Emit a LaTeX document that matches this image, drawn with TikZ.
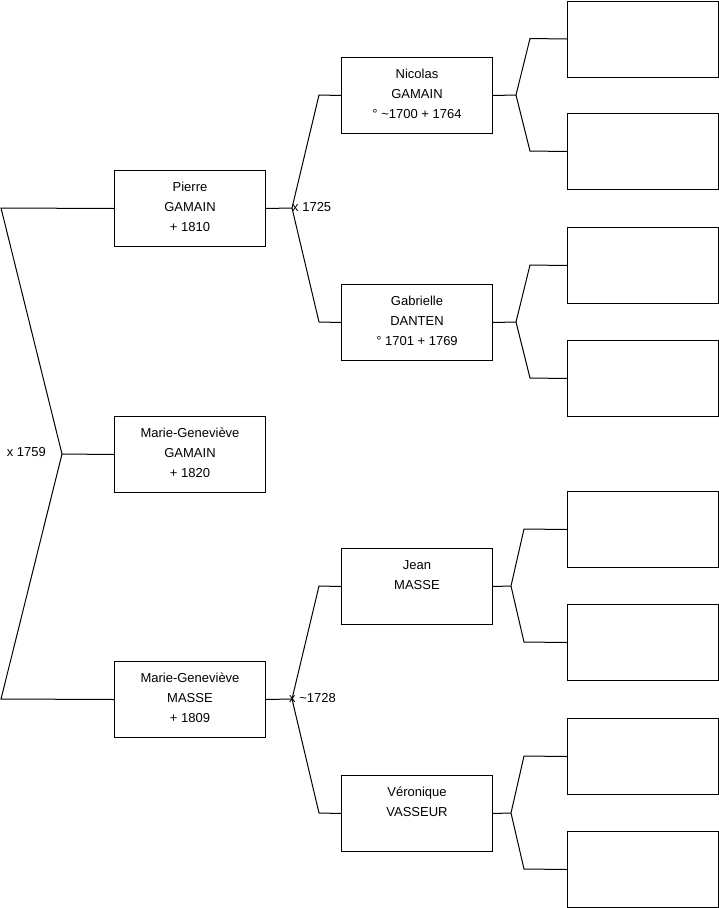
\documentclass[tikz,border=0pt]{standalone}
\usepackage{fontspec}
\setmainfont{Liberation Sans}
\newcommand{\boxlines}[1]{\vtop{\baselineskip=20pt\lineskiplimit=-20pt\halign{\hfil##\hfil\cr#1\crcr}}}
\begin{document}
\begin{tikzpicture}[x=1pt,y=-1pt,
  person/.style={draw=black,line width=1pt,rectangle,anchor=north west,minimum width=151pt,minimum height=76pt,inner sep=0pt},
  txt/.style={anchor=base,inner sep=0pt,font=\fontsize{13}{20}\selectfont},
  lbl/.style={inner sep=0pt,font=\fontsize{13}{16}\selectfont},
  conn/.style={draw=black,line width=1pt,line join=miter}]
\useasboundingbox (0,0) rectangle (719,908);
% boxes
\node[person] (p1) at (114,170) {};
\node[person] (p2) at (114,416) {};
\node[person] (p3) at (114,661) {};
\node[person] (n) at (341,57) {};
\node[person] (g) at (341,284) {};
\node[person] (j) at (341,548) {};
\node[person] (v) at (341,775) {};
\node[person] (e1) at (567,0.5) {};
\node[person] (e2) at (567,113) {};
\node[person] (e3) at (567,227) {};
\node[person] (e4) at (567,340) {};
\node[person] (e5) at (567,491) {};
\node[person] (e6) at (567,604) {};
\node[person] (e7) at (567,718) {};
\node[person] (e8) at (567,831) {};
% texts
\node[txt] (t1) at ([yshift=-21pt]p1.north) {\boxlines{Pierre\cr GAMAIN\cr + 1810}};
\node[txt] (t2) at ([yshift=-21pt]p2.north) {\boxlines{Marie-Geneviève\cr GAMAIN\cr + 1820}};
\node[txt] (t3) at ([yshift=-21pt]p3.north) {\boxlines{Marie-Geneviève\cr MASSE\cr + 1809}};
\node[txt] (t4) at ([yshift=-21pt]n.north) {\boxlines{Nicolas\cr GAMAIN\cr ° \textasciitilde1700 + 1764}};
\node[txt] (t5) at ([yshift=-21pt]g.north) {\boxlines{Gabrielle\cr DANTEN\cr ° 1701 + 1769}};
\node[txt] (t6) at ([yshift=-21pt]j.north) {\boxlines{Jean\cr MASSE}};
\node[txt] (t7) at ([yshift=-21pt]v.north) {\boxlines{Véronique\cr VASSEUR}};
% fork points
\coordinate (a0) at (62,454);
\coordinate (c01) at (1,208);
\coordinate (c02) at (1,699);
\coordinate (a1) at (292,208);
\coordinate (c11) at (319,95);
\coordinate (c12) at (319,322);
\coordinate (a2) at (292,699);
\coordinate (c21) at (319,586);
\coordinate (c22) at (319,813);
\coordinate (an) at (516,95);
\coordinate (cn1) at (530,38.5);
\coordinate (cn2) at (530,151);
\coordinate (ag) at (516,322);
\coordinate (cg1) at (530,265);
\coordinate (cg2) at (530,378);
\coordinate (aj) at (511,586);
\coordinate (cj1) at (524,529);
\coordinate (cj2) at (524,642);
\coordinate (av) at (511,813);
\coordinate (cv1) at (524,756);
\coordinate (cv2) at (524,869);
% connectors
\draw[conn] (p1.west) -- (c01) -- (a0) -- (c02) -- (p3.west);
\draw[conn] (a0) -- (p2.west);
\draw[conn] (p1.east) -- (a1);
\draw[conn] (n.west) -- (c11) -- (a1) -- (c12) -- (g.west);
\draw[conn] (p3.east) -- (a2);
\draw[conn] (j.west) -- (c21) -- (a2) -- (c22) -- (v.west);
\draw[conn] (n.east) -- (an);
\draw[conn] (e1.west) -- (cn1) -- (an) -- (cn2) -- (e2.west);
\draw[conn] (g.east) -- (ag);
\draw[conn] (e3.west) -- (cg1) -- (ag) -- (cg2) -- (e4.west);
\draw[conn] (j.east) -- (aj);
\draw[conn] (e5.west) -- (cj1) -- (aj) -- (cj2) -- (e6.west);
\draw[conn] (v.east) -- (av);
\draw[conn] (e7.west) -- (cv1) -- (av) -- (cv2) -- (e8.west);
% labels
\node[lbl,anchor=base east] (l0) at (46,456) {x 1759};
\node[lbl,anchor=base west] (l1) at (292,211) {x 1725};
\node[lbl,anchor=base west] (l2) at (289,702) {x \textasciitilde1728};
\end{tikzpicture}
\end{document}
